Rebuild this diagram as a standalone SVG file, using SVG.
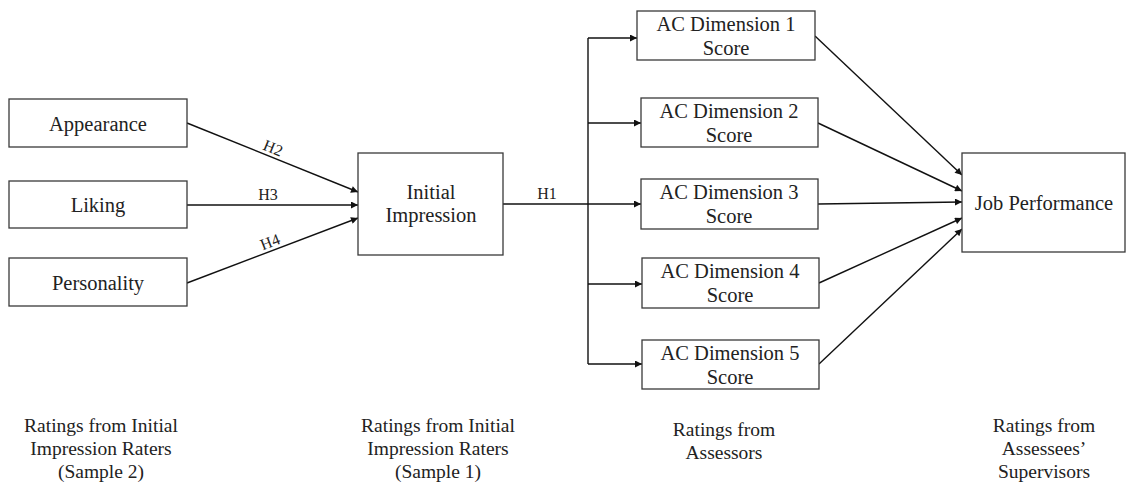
<svg xmlns="http://www.w3.org/2000/svg" width="1126" height="483" viewBox="0 0 1126 483">
  <style>
    .box { fill: #ffffff; stroke: #3a3a3a; stroke-width: 1.3; }
    .lbl { font-size: 20.5px; fill: #222222; text-anchor: middle; }
    .src { font-size: 19.5px; fill: #222222; text-anchor: middle; }
    .hyp { font-size: 16px; fill: #222222; text-anchor: middle; }
    .edge { fill: none; stroke: #111111; stroke-width: 1.4; }
    .arrow { marker-end: url(#head); }
  </style>
  <defs>
    <marker id="head" viewBox="0 0 10 10" refX="10" refY="5" markerWidth="9" markerHeight="7" markerUnits="userSpaceOnUse" orient="auto">
      <path d="M0,0 L10,5 L0,10 z" fill="#111111"/>
    </marker>
  </defs>
  <rect width="1126" height="483" fill="#ffffff"/>

  <g font-family="Liberation Serif, DejaVu Serif, serif">
  <!-- connectors -->
  <g id="connectors">
    <line class="edge arrow" x1="187" y1="123" x2="358" y2="192"/>
    <line class="edge arrow" x1="187" y1="205" x2="358" y2="205"/>
    <line class="edge arrow" x1="187" y1="283" x2="358" y2="218"/>
    <line class="edge" x1="503" y1="204" x2="588" y2="204"/>
    <line class="edge" x1="588" y1="38" x2="588" y2="364"/>
    <line class="edge arrow" x1="588" y1="38" x2="637" y2="38"/>
    <line class="edge arrow" x1="588" y1="123" x2="641" y2="123"/>
    <line class="edge arrow" x1="588" y1="204" x2="641" y2="204"/>
    <line class="edge arrow" x1="588" y1="284" x2="642" y2="284"/>
    <line class="edge arrow" x1="588" y1="364" x2="642" y2="364"/>
    <line class="edge arrow" x1="815" y1="36" x2="962" y2="175"/>
    <line class="edge arrow" x1="818" y1="123" x2="962" y2="191"/>
    <line class="edge arrow" x1="818" y1="204" x2="962" y2="202"/>
    <line class="edge arrow" x1="819" y1="283" x2="962" y2="218"/>
    <line class="edge arrow" x1="819" y1="364" x2="962" y2="229"/>
    <text class="hyp" transform="translate(271,153) rotate(22)">H2</text>
    <text class="hyp" x="268" y="200">H3</text>
    <text class="hyp" transform="translate(272,247) rotate(-21)">H4</text>
    <text class="hyp" x="547" y="199">H1</text>
  </g>

  <!-- predictors -->
  <g id="appearance">
    <rect class="box" x="9" y="99" width="178" height="48"/>
    <text class="lbl" x="98" y="131">Appearance</text>
  </g>
  <g id="liking">
    <rect class="box" x="9" y="181" width="178" height="47"/>
    <text class="lbl" x="98" y="212">Liking</text>
  </g>
  <g id="personality">
    <rect class="box" x="9" y="258" width="178" height="48"/>
    <text class="lbl" x="98" y="290">Personality</text>
  </g>

  <g id="initial-impression">
    <rect class="box" x="358" y="153" width="145" height="102"/>
    <text class="lbl" x="431" y="199">Initial</text>
    <text class="lbl" x="431" y="222">Impression</text>
  </g>

  <!-- assessment centre dimension scores -->
  <g id="ac1">
    <rect class="box" x="637" y="11" width="178" height="49"/>
    <text class="lbl" x="726" y="31">AC Dimension 1</text>
    <text class="lbl" x="726" y="55">Score</text>
  </g>
  <g id="ac2">
    <rect class="box" x="641" y="98" width="177" height="49"/>
    <text class="lbl" x="729" y="118">AC Dimension 2</text>
    <text class="lbl" x="729" y="142">Score</text>
  </g>
  <g id="ac3">
    <rect class="box" x="641" y="179" width="177" height="50"/>
    <text class="lbl" x="729" y="199">AC Dimension 3</text>
    <text class="lbl" x="729" y="223">Score</text>
  </g>
  <g id="ac4">
    <rect class="box" x="642" y="258" width="177" height="50"/>
    <text class="lbl" x="730" y="278">AC Dimension 4</text>
    <text class="lbl" x="730" y="302">Score</text>
  </g>
  <g id="ac5">
    <rect class="box" x="642" y="340" width="177" height="49"/>
    <text class="lbl" x="730" y="360">AC Dimension 5</text>
    <text class="lbl" x="730" y="384">Score</text>
  </g>

  <g id="job-performance">
    <rect class="box" x="962" y="153" width="163" height="99"/>
    <text class="lbl" x="1044" y="210">Job Performance</text>
  </g>

  <!-- rating sources -->
  <g id="source-sample2">
    <text class="src" x="101" y="432">Ratings from Initial</text>
    <text class="src" x="101" y="455">Impression Raters</text>
    <text class="src" x="101" y="478">(Sample 2)</text>
  </g>
  <g id="source-sample1">
    <text class="src" x="438" y="432">Ratings from Initial</text>
    <text class="src" x="438" y="455">Impression Raters</text>
    <text class="src" x="438" y="478">(Sample 1)</text>
  </g>
  <g id="source-assessors">
    <text class="src" x="724" y="436">Ratings from</text>
    <text class="src" x="724" y="459">Assessors</text>
  </g>
  <g id="source-supervisors">
    <text class="src" x="1044" y="432">Ratings from</text>
    <text class="src" x="1044" y="455">Assessees’</text>
    <text class="src" x="1044" y="478">Supervisors</text>
  </g>
  </g>
</svg>
